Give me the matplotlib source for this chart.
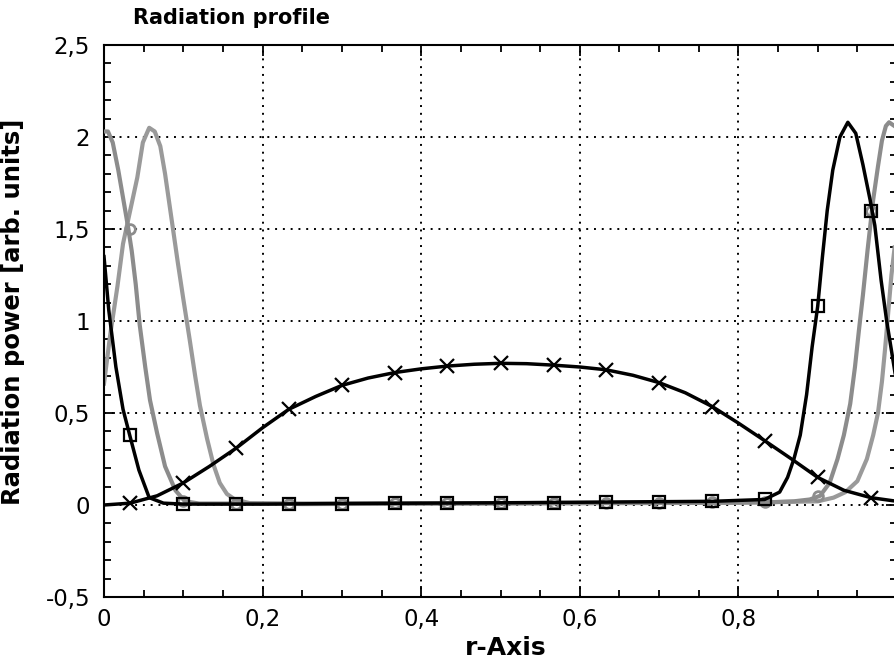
import matplotlib.pyplot as plt
import numpy as np
from matplotlib.ticker import MultipleLocator, FuncFormatter

# broad profile, black, x markers
a_r = [0.0, 0.033, 0.067, 0.1, 0.133, 0.167, 0.2, 0.233, 0.267, 0.3, 0.333, 0.367, 0.4,
       0.433, 0.467, 0.5, 0.533, 0.567, 0.6, 0.633, 0.667, 0.7, 0.733, 0.767, 0.8,
       0.833, 0.867, 0.9, 0.933, 0.967, 1.0]
a_y = [0.0, 0.01, 0.05, 0.12, 0.21, 0.31, 0.42, 0.52, 0.59, 0.65, 0.69, 0.72, 0.74,
       0.755, 0.765, 0.77, 0.768, 0.76, 0.75, 0.735, 0.705, 0.665, 0.61, 0.535, 0.445,
       0.35, 0.25, 0.15, 0.08, 0.04, 0.02]

# black peaked profile, square markers
b_r = [0.0, 0.006, 0.015, 0.024, 0.033, 0.044, 0.057, 0.075, 0.1, 0.2, 0.3, 0.4, 0.5,
       0.6, 0.7, 0.767, 0.833, 0.852, 0.862, 0.87, 0.878, 0.886, 0.893, 0.9, 0.906,
       0.912, 0.919, 0.928, 0.938, 0.948, 0.957, 0.966, 0.972, 0.98, 0.987, 0.993, 1.0]
b_y = [1.35, 1.06, 0.75, 0.52, 0.37, 0.19, 0.04, 0.01, 0.005, 0.005, 0.008, 0.01, 0.012,
       0.015, 0.018, 0.02, 0.03, 0.07, 0.15, 0.25, 0.38, 0.6, 0.86, 1.08, 1.35,
       1.6, 1.82, 2.0, 2.08, 2.02, 1.85, 1.66, 1.52, 1.22, 1.0, 0.84, 0.65]

# grey profile peaking at the boundary, circle markers
c_r = [0.0, 0.005, 0.011, 0.018, 0.024, 0.03, 0.035, 0.04, 0.045, 0.052, 0.058, 0.067,
       0.077, 0.09, 0.102, 0.12, 0.3, 0.5, 0.7, 0.84, 0.87, 0.89, 0.903, 0.915, 0.925,
       0.933, 0.941, 0.947, 0.952, 0.957, 0.963, 0.97, 0.976, 0.981, 0.986, 0.99, 1.0]
c_y = [2.03, 2.03, 1.97, 1.82, 1.67, 1.52, 1.38, 1.2, 0.98, 0.75, 0.57, 0.39,
       0.21, 0.08, 0.02, 0.008, 0.008, 0.01, 0.012, 0.015, 0.02, 0.03, 0.05, 0.12, 0.25,
       0.38, 0.55, 0.75, 0.95, 1.14, 1.39, 1.66, 1.84, 1.98, 2.06, 2.08, 2.05]

# second grey profile, no markers
d_r = [0.0, 0.008, 0.017, 0.024, 0.033, 0.042, 0.049, 0.057, 0.064, 0.071, 0.077,
       0.082, 0.087, 0.093, 0.1, 0.108, 0.115, 0.121, 0.13, 0.138, 0.146, 0.155, 0.165,
       0.184, 0.25, 0.5, 0.8, 0.9, 0.92, 0.935, 0.95, 0.962, 0.97, 0.976, 0.981, 0.985,
       0.989, 0.993, 0.997]
d_y = [0.66, 0.93, 1.19, 1.42, 1.6, 1.78, 1.97, 2.05, 2.03, 1.95, 1.8,
       1.65, 1.5, 1.32, 1.12, 0.9, 0.7, 0.54, 0.36, 0.22, 0.12, 0.06, 0.03,
       0.01, 0.005, 0.008, 0.012, 0.02, 0.04, 0.07, 0.13, 0.25, 0.38, 0.5, 0.67, 0.85,
       1.05, 1.25, 1.4]

# marker positions (cell centres) and values read at them
m_r = [0.033, 0.1, 0.167, 0.233, 0.3, 0.367, 0.433, 0.5, 0.567, 0.633, 0.7, 0.767,
       0.833, 0.9, 0.967]
a_m = [0.01, 0.12, 0.31, 0.52, 0.65, 0.72, 0.755, 0.77, 0.76, 0.735, 0.665, 0.535,
       0.35, 0.15, 0.04]
b_m = [0.38, 0.005, 0.005, 0.006, 0.008, 0.009, 0.01, 0.012, 0.013, 0.015, 0.017, 0.02,
       0.03, 1.08, 1.6]
c_m = [1.5, 0.02, 0.008, 0.008, 0.008, 0.009, 0.01, 0.01, 0.011, 0.012, 0.013, 0.014,
       0.015, 0.05, 1.6]

xticks = [0, 0.2, 0.4, 0.6, 0.8]
yticks = [-0.5, 0, 0.5, 1, 1.5, 2, 2.5]

plt.rcParams['font.family'] = 'DejaVu Sans'

fig = plt.figure(figsize=(8.95, 6.65), dpi=100)
ax = fig.add_axes([104 / 895, 1 - 597 / 665, 793 / 895, 552 / 665])

grey = '#8c8c8c'
ax.plot(d_r, d_y, color='#9a9a9a', lw=3, zorder=2)
ax.plot(c_r, c_y, color=grey, lw=3, zorder=3)
ax.plot(m_r, c_m, ls='none', marker='o', ms=7, mfc='none', mec=grey, mew=2, zorder=3)
ax.plot(b_r, b_y, color='black', lw=2.5, zorder=4)
ax.plot(m_r, b_m, ls='none', marker='s', ms=8, mfc='none', mec='black', mew=1.6, zorder=4)
ax.plot(a_r, a_y, color='black', lw=2.5, zorder=5)
ax.plot(m_r, a_m, ls='none', marker='x', ms=10, mec='black', mew=1.6, zorder=5)

ax.set_xlim(0, 1)
ax.set_ylim(-0.5, 2.5)
ax.set_xticks(xticks)
ax.set_yticks(yticks)
ax.xaxis.set_minor_locator(MultipleLocator(0.05))
ax.yaxis.set_minor_locator(MultipleLocator(0.1))
comma = FuncFormatter(lambda v, p: f'{v:g}'.replace('.', ','))
ax.xaxis.set_major_formatter(comma)
ax.yaxis.set_major_formatter(comma)
ax.tick_params(which='both', direction='in', top=True, right=True, width=1.3,
               labelsize=16.5)
ax.tick_params(which='major', length=8)
ax.tick_params(which='minor', length=5)
ax.tick_params(axis='y', pad=10)
ax.tick_params(axis='x', pad=8)
ax.grid(True, which='major', color='black', lw=1.4, ls=(0, (1, 3)))
for s in ax.spines.values():
    s.set_linewidth(1.5)

ax.set_xlabel('r-Axis', fontsize=18, fontweight='bold')
ax.xaxis.set_label_coords(0.506, -0.07)
ax.set_ylabel('Radiation power [arb. units]', fontsize=17.5, fontweight='bold')
ax.yaxis.set_label_coords(-0.1, 0.516)
fig.text(133 / 895, 1 - 18 / 665, 'Radiation profile', fontsize=15, fontweight='bold',
         ha='left', va='center')

fig.savefig('out.png', dpi=100)
